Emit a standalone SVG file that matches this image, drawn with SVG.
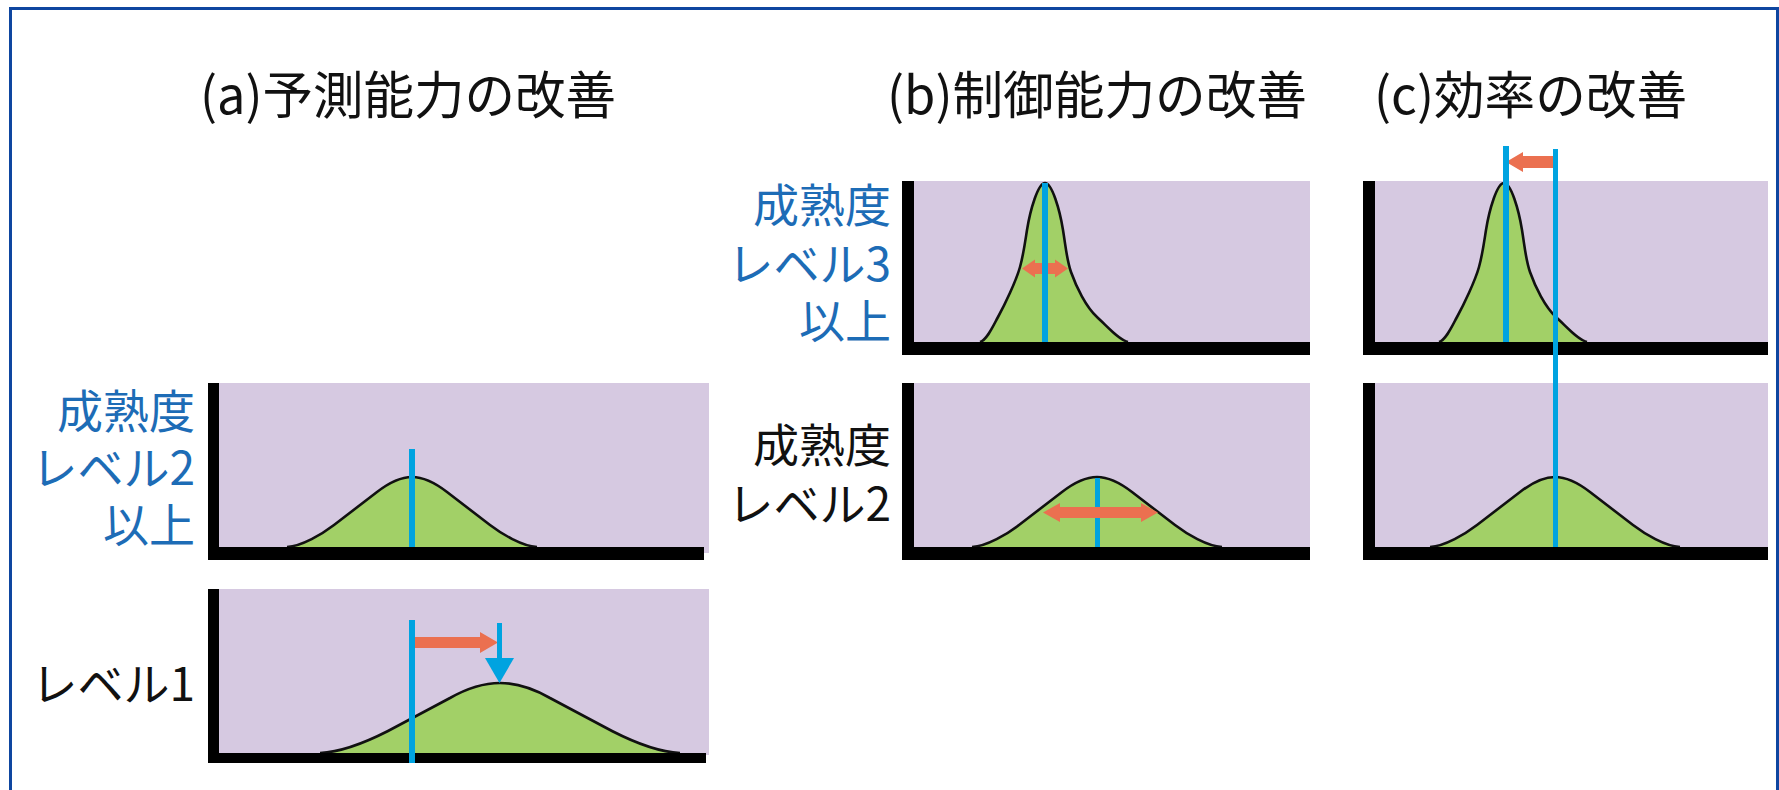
<svg xmlns="http://www.w3.org/2000/svg" width="1779" height="790" viewBox="0 0 1779 790">
<style>
.bg{fill:#d6c9e1}
.ax{fill:#000}
.cf{fill:#a2d067;stroke:none}
.cl{fill:none;stroke:#111;stroke-width:2.6;stroke-linejoin:round}
.mean{stroke:#00a3e0;stroke-width:6;fill:none}
.mean5{stroke:#00a3e0;stroke-width:5;fill:none}
.title{font-family:"Noto Sans CJK JP","Noto Sans CJK SC",sans-serif;font-size:51px;fill:#111}
.lbl{font-family:"Noto Sans CJK JP","Noto Sans CJK SC",sans-serif;font-size:46px;text-anchor:end}
.blue{fill:#1d6cb6}
.black{fill:#111}
.orange{fill:#eb7050}
.bluehead{fill:#00a3e0}
</style>
<defs>
<path id="bell" d="M -125,0 C -110,-1 -90,-12.8 -78,-22 L -35,-55 C -24,-63.5 -13,-70 0,-70 C 13,-70 24,-63.5 35,-55 L 78,-22 C 90,-12.8 110,-1 125,0"/>
<path id="bellWide" d="M -180,0 C -158,-1 -130,-12.8 -112,-22 L -50,-55 C -35,-63.5 -19,-70 0,-70 C 19,-70 35,-63.5 50,-55 L 112,-22 C 130,-12.8 158,-1 180,0"/>
<path id="peak" d="M -65,0 C -58,-2 -51.4,-17 -47,-25 C -40.4,-37 -28.9,-61 -25,-75 C -21.6,-87 -19.6,-102 -18,-112 C -14.8,-132 -7,-159 0,-159 C 7,-159 14.8,-132 18,-112 C 21.2,-92 21.8,-82 26,-70 C 31.3,-55 41,-35 52,-25 C 63,-15 74,-2 83,0"/>
</defs>

<rect x="0" y="0" width="1779" height="790" fill="#fff"/>
<path id="frame" d="M10.5,792 V8.5 H1777.5 V792" fill="none" stroke="#0e46a0" stroke-width="3"/>

<g id="title-a"><text class="title" x="200" y="114" textLength="416" lengthAdjust="spacingAndGlyphs">(a)予測能力の改善</text></g>
<g id="title-b"><text class="title" x="887" y="114" textLength="420" lengthAdjust="spacingAndGlyphs">(b)制御能力の改善</text></g>
<g id="title-c"><text class="title" x="1374" y="114" textLength="313" lengthAdjust="spacingAndGlyphs">(c)効率の改善</text></g>

<g id="panel-a-top">
<rect class="bg" x="219" y="383" width="490" height="170"/>
<use href="#bell" x="412" y="547" class="cf"/>
<use href="#bell" x="412" y="547" class="cl"/>
<rect class="ax" x="208" y="383" width="11" height="177"/>
<rect class="ax" x="208" y="547" width="496" height="13"/>
<text class="lbl blue"><tspan x="195" y="428">成熟度</tspan><tspan x="195" y="485">レベル2</tspan><tspan x="195" y="542">以上</tspan></text>
</g>

<g id="panel-a-bottom">
<rect class="bg" x="219" y="589" width="490" height="166"/>
<use href="#bellWide" x="500" y="753" class="cf"/>
<use href="#bellWide" x="500" y="753" class="cl"/>
<rect class="ax" x="208" y="589" width="11" height="174"/>
<rect class="ax" x="208" y="753" width="498" height="10"/>
<text class="lbl black" x="195" y="701">レベル1</text>
</g>

<g id="panel-b-top">
<rect class="bg" x="914" y="181" width="396" height="161"/>
<use href="#peak" x="1045" y="342" class="cf"/>
<use href="#peak" x="1045" y="342" class="cl"/>
<rect class="ax" x="902" y="181" width="12" height="174"/>
<rect class="ax" x="902" y="342" width="408" height="13"/>
<text class="lbl blue"><tspan x="891" y="222">成熟度</tspan><tspan x="891" y="281">レベル3</tspan><tspan x="891" y="338">以上</tspan></text>
</g>

<g id="panel-b-bottom">
<rect class="bg" x="914" y="383" width="396" height="164"/>
<use href="#bell" x="1097" y="547" class="cf"/>
<use href="#bell" x="1097" y="547" class="cl"/>
<rect class="ax" x="902" y="383" width="12" height="177"/>
<rect class="ax" x="902" y="547" width="408" height="13"/>
<text class="lbl black"><tspan x="891" y="462">成熟度</tspan><tspan x="891" y="521">レベル2</tspan></text>
</g>

<g id="panel-c-top">
<rect class="bg" x="1375" y="181" width="393" height="161"/>
<use href="#peak" x="1504" y="342" class="cf"/>
<use href="#peak" x="1504" y="342" class="cl"/>
<rect class="ax" x="1363" y="181" width="12" height="174"/>
<rect class="ax" x="1363" y="342" width="405" height="13"/>
</g>

<g id="panel-c-bottom">
<rect class="bg" x="1375" y="383" width="393" height="164"/>
<use href="#bell" x="1555" y="547" class="cf"/>
<use href="#bell" x="1555" y="547" class="cl"/>
<rect class="ax" x="1363" y="383" width="12" height="177"/>
<rect class="ax" x="1363" y="547" width="405" height="13"/>
</g>

<g id="connectors">
<line class="mean" x1="412" y1="449" x2="412" y2="547"/>
<line class="mean" x1="412" y1="620" x2="412" y2="763"/>
<polygon class="orange" points="415,637 480,637 480,632 498,642.5 480,653 480,648 415,648"/>
<line class="mean5" x1="499.5" y1="623" x2="499.5" y2="662"/>
<polygon class="bluehead" points="485,658 514,658 499.5,683"/>
<polygon class="orange" points="1022,268.5 1035,259.5 1035,263 1055,263 1055,259.5 1068,268.5 1055,277.5 1055,274 1035,274 1035,277.5"/>
<line class="mean" x1="1045" y1="183" x2="1045" y2="342"/>
<line class="mean5" x1="1097.5" y1="478" x2="1097.5" y2="547"/>
<polygon class="orange" points="1043,512.5 1060,503 1060,507 1141,507 1141,503 1158,512.5 1141,522 1141,518 1060,518 1060,522"/>
<polygon class="orange" points="1553,156 1523,156 1523,152 1506,162 1523,172 1523,168 1553,168"/>
<line class="mean" x1="1506" y1="146" x2="1506" y2="342"/>
<line class="mean5" x1="1555.5" y1="149" x2="1555.5" y2="547"/>
</g>
</svg>
